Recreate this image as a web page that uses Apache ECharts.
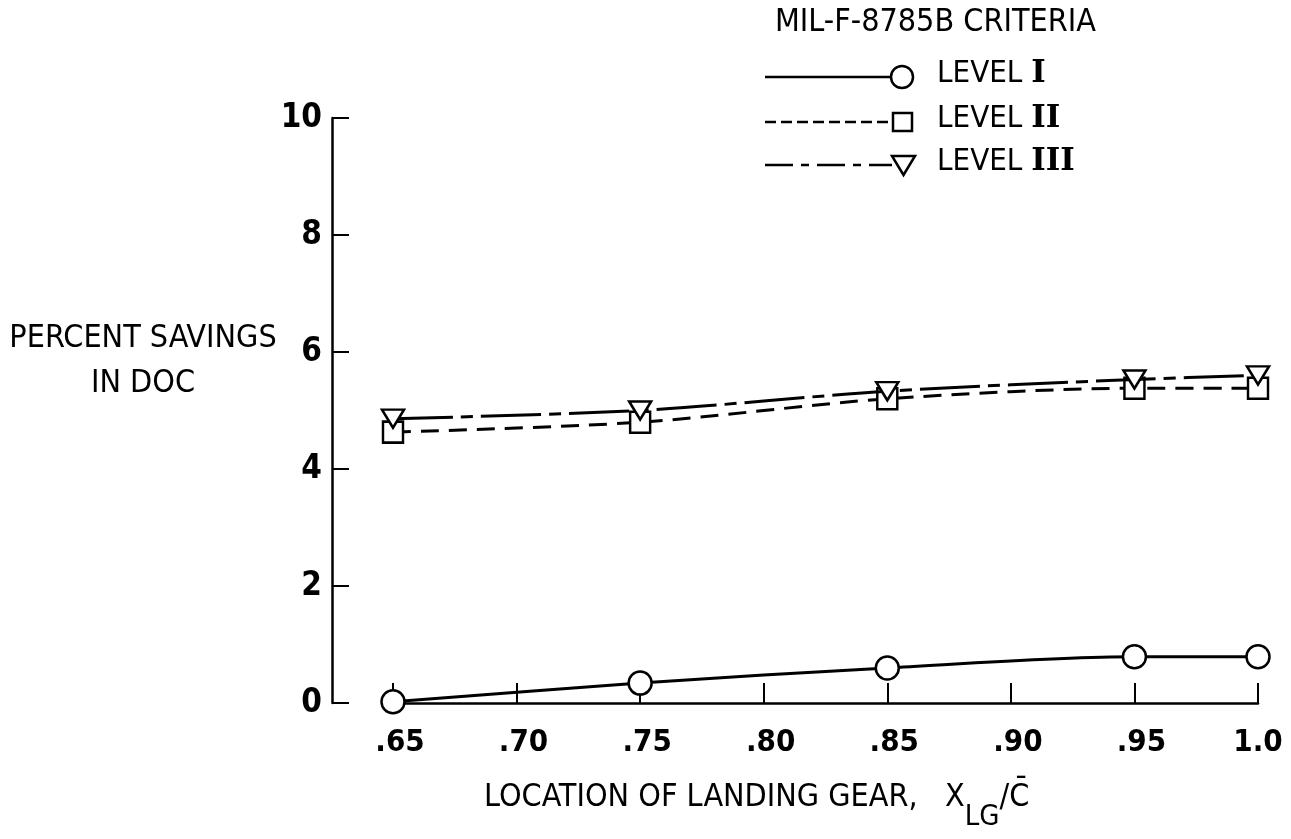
<!DOCTYPE html>
<html>
<head>
<meta charset="utf-8">
<script src="https://cdn.jsdelivr.net/npm/echarts@6/dist/echarts.min.js"></script>
<style>
html,body{margin:0;padding:0;background:#fff;}
#chart{width:1291px;height:839px;}
</style>
</head>
<body>
<div id="chart"></div>
<script>
// ---- data ----
const xValues = [0.65, 0.75, 0.85, 0.95, 1.0];
const levelI   = [0.02, 0.34, 0.60, 0.79, 0.79];
const levelII  = [4.63, 4.80, 5.20, 5.38, 5.38];
const levelIII = [4.86, 5.00, 5.33, 5.53, 5.60];
const xTickLabels = ['.65', '.70', '.75', '.80', '.85', '.90', '.95', '1.0'];
const yTickLabels = ['0', '2', '4', '6', '8', '10'];
const seriesNames = ['LEVEL I', 'LEVEL II', 'LEVEL III'];
const legendTitle = 'MIL-F-8785B CRITERIA';
const yAxisTitle = 'PERCENT SAVINGS\nIN DOC';

const FONT = '"DejaVu Sans Condensed", "Liberation Sans Narrow", "DejaVu Sans", sans-serif';
const pair = (ys) => xValues.map((x, i) => [x, ys[i]]);

const chart = echarts.init(document.getElementById('chart'), null, {renderer: 'canvas'});

const baseLine = {
  type: 'line',
  smooth: 0.3,
  clip: false,
  z: 3
};

const legendRows = [
  {y: 77, dash: null, marker: 'circle', num: 'I'},
  {y: 122, dash: [11, 5], marker: 'rect', num: 'II'},
  {y: 165, dash: [28, 8, 8, 8], marker: 'tri', num: 'III'}
];
const graphics = [];
graphics.push({
  type: 'text', left: 775, top: 7,
  style: {text: legendTitle, font: 'normal 32px ' + FONT, fill: '#000'}
});
legendRows.forEach((r) => {
  graphics.push({
    type: 'line',
    shape: {x1: 765, y1: r.y, x2: 892, y2: r.y},
    style: {stroke: '#000', lineWidth: 2.5, lineDash: r.dash}
  });
  if (r.marker === 'circle') {
    graphics.push({type: 'circle', shape: {cx: 902, cy: r.y, r: 11},
      style: {fill: '#fff', stroke: '#000', lineWidth: 2.5}});
  } else if (r.marker === 'rect') {
    graphics.push({type: 'rect', shape: {x: 893, y: r.y - 9, width: 19, height: 18},
      style: {fill: '#fff', stroke: '#000', lineWidth: 2.5}});
  } else {
    graphics.push({type: 'polygon', shape: {points: [[892, r.y - 9], [915, r.y - 9], [903.5, r.y + 10]]},
      style: {fill: '#fff', stroke: '#000', lineWidth: 2.5}});
  }
  graphics.push({
    type: 'text', left: 937, top: r.y - 19,
    style: {
      text: '{a|LEVEL }{n|' + r.num + '}',
      rich: {
        a: {font: 'normal 31px ' + FONT, fill: '#000'},
        n: {font: 'bold 31px "DejaVu Serif", serif', fill: '#000'}
      }
    }
  });
});
// y axis title
graphics.push({
  type: 'text', x: 143, y: 361,
  style: {text: yAxisTitle, font: 'normal 32px ' + FONT, fill: '#000',
    align: 'center', verticalAlign: 'middle', lineHeight: 45}
});
// x axis title
graphics.push({
  type: 'text', left: 484, top: 782,
  style: {
    text: '{a|LOCATION OF LANDING GEAR,   X}{s|LG}{a|/C\u0304}',
    rich: {
      a: {font: 'normal 32px ' + FONT, fill: '#000', verticalAlign: 'top', lineHeight: 50},
      s: {font: 'normal 29px ' + FONT, fill: '#000', verticalAlign: 'bottom', lineHeight: 50}
    }
  }
});

const option = {
  backgroundColor: '#fff',
  animation: false,
  grid: {left: 393, right: 33, top: 118, bottom: 136, containLabel: false},
  xAxis: {
    type: 'value', min: 0.65, max: 1.0, interval: 0.05,
    axisLine: {show: true, lineStyle: {color: '#000', width: 2.5}},
    axisTick: {show: true, inside: true, length: 20, lineStyle: {color: '#000', width: 2}},
    splitLine: {show: false},
    axisLabel: {
      margin: 24, color: '#000', fontSize: 31, fontFamily: FONT, fontWeight: 'bold',
      formatter: (v) => {
        const s = xTickLabels[Math.round((v - 0.65) / 0.05)] || '';
        return s.charAt(0) === '.' ? '{d|' + s + '}' : '{e|' + s + '}';
      },
      rich: {
        d: {fontSize: 31, fontFamily: FONT, fontWeight: 'bold', color: '#000', padding: [0, 0, 0, 14]},
        e: {fontSize: 31, fontFamily: FONT, fontWeight: 'bold', color: '#000'}
      }
    }
  },
  yAxis: {
    type: 'value', min: 0, max: 10, interval: 2, offset: 61,
    axisLine: {show: true, lineStyle: {color: '#000', width: 2.5}},
    axisTick: {show: true, inside: true, length: 17, lineStyle: {color: '#000', width: 2}},
    splitLine: {show: false},
    axisLabel: {
      margin: 10, color: '#000', fontSize: 33, fontFamily: FONT, fontWeight: 'bold',
      formatter: (v) => yTickLabels[Math.round(v / 2)] || ''
    }
  },
  graphic: graphics,
  series: [
    Object.assign({}, baseLine, {
      name: seriesNames[0], data: pair(levelI),
      symbol: 'circle', symbolSize: 23,
      lineStyle: {color: '#000', width: 3, type: 'solid'},
      itemStyle: {color: '#fff', borderColor: '#000', borderWidth: 2.5}
    }),
    Object.assign({}, baseLine, {
      name: seriesNames[1], data: pair(levelII),
      symbol: 'rect', symbolSize: [20, 21],
      lineStyle: {color: '#000', width: 3, type: [18, 10]},
      itemStyle: {color: '#fff', borderColor: '#000', borderWidth: 2.5}
    }),
    Object.assign({}, baseLine, {
      name: seriesNames[2], data: pair(levelIII),
      symbol: 'triangle', symbolRotate: 180, symbolSize: [22, 18],
      lineStyle: {color: '#000', width: 3, type: [60, 8, 12, 8]},
      itemStyle: {color: '#fff', borderColor: '#000', borderWidth: 2.5},
      z: 4
    })
  ]
};
chart.setOption(option);
</script>
</body>
</html>
